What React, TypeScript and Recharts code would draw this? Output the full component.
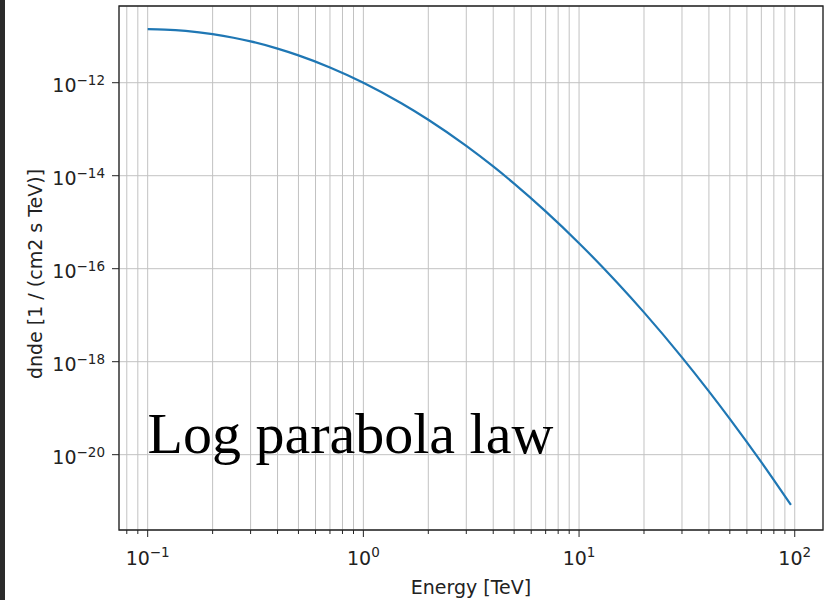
import { LineChart, Line, XAxis, YAxis, CartesianGrid, ReferenceArea } from "recharts";

// energy [TeV] and dnde [1 / (cm2 s TeV)]
const energies = [0.1, 0.12, 0.15, 0.2, 0.25, 0.3, 0.4, 0.5, 0.7, 1, 1.5, 2, 3, 4, 5, 7, 10, 15, 20, 30, 40, 50, 70, 96];
const dndeValues = [
  1.42e-11, 1.39e-11, 1.3e-11, 1.11e-11, 9.29e-12, 7.73e-12, 5.41e-12, 3.87e-12, 2.13e-12, 1e-12,
  3.62e-13, 1.6e-13, 4.38e-14, 1.58e-14, 6.76e-15, 1.71e-15, 3.54e-16, 5.05e-17, 1.15e-17,
  1.24e-18, 2.3e-19, 5.89e-20, 6.89e-21, 8.28e-22,
];

const xMajorTicks = [0.1, 1, 10, 100];
const xMinorTicks = [
  0.08, 0.09, 0.2, 0.3, 0.4, 0.5, 0.6, 0.7, 0.8, 0.9, 2, 3, 4, 5, 6, 7, 8, 9, 20, 30, 40, 50, 60, 70, 80, 90,
];
const xExponents = ["−1", "0", "1", "2"];
const yMajorTicks = [1e-12, 1e-14, 1e-16, 1e-18, 1e-20];
const yExponents = ["−12", "−14", "−16", "−18", "−20"];

const xDomain = [0.07362, 135.2];
const yDomain = [2.399e-22, 4.467e-11];

const data = energies.map((e, i) => ({ energy: e, dnde: dndeValues[i] }));
const xTicks = [...xMinorTicks, ...xMajorTicks].sort((a, b) => a - b);

const FONT = "DejaVu Sans";
const INK = "#222";

function XTick(props: any) {
  const { x, y, payload } = props;
  const idx = xMajorTicks.indexOf(payload.value);
  const major = idx >= 0;
  return (
    <g>
      <line x1={x} y1={y} x2={x} y2={y + (major ? 7 : 4)} stroke={INK} strokeWidth={1} />
      {major && (
        <text x={x} y={y + 35} textAnchor="middle" fontFamily={FONT} fontSize={19} fill={INK}>
          <tspan>10</tspan>
          <tspan dy={-8} fontSize={13.5}>{xExponents[idx]}</tspan>
        </text>
      )}
    </g>
  );
}

function YTick(props: any) {
  const { x, y, payload } = props;
  const idx = yMajorTicks.indexOf(payload.value);
  return (
    <g>
      <line x1={x - 7} y1={y} x2={x} y2={y} stroke={INK} strokeWidth={1} />
      <text x={x - 14} y={y + 9} textAnchor="end" fontFamily={FONT} fontSize={19} fill={INK}>
        <tspan>10</tspan>
        <tspan dy={-7} fontSize={13.5}>{yExponents[idx]}</tspan>
      </text>
    </g>
  );
}

export default function App() {
  return (
    <div style={{ position: "absolute", left: 0, top: 0, width: 829, height: 600, background: "#fff" }}>
      <div style={{ position: "absolute", left: 0, top: 0, width: 5, height: 600, background: "#2b2b2b" }} />
      <LineChart width={829} height={600} data={data} margin={{ top: 6, right: 6, bottom: 0, left: 0 }}>
        <CartesianGrid stroke="#c2c2c2" strokeWidth={1} />
        <XAxis
          dataKey="energy"
          type="number"
          scale="log"
          domain={xDomain}
          allowDataOverflow
          ticks={xTicks}
          interval={0}
          height={70}
          axisLine={false}
          tickLine={false}
          tickSize={0}
          tickMargin={0}
          tick={<XTick />}
          label={() => (
            <text x={471} y={594} textAnchor="middle" fontFamily={FONT} fontSize={19} fill={INK}>
              Energy [TeV]
            </text>
          )}
        />
        <YAxis
          type="number"
          scale="log"
          domain={yDomain}
          allowDataOverflow
          ticks={yMajorTicks}
          interval={0}
          width={119}
          axisLine={false}
          tickLine={false}
          tickSize={0}
          tickMargin={0}
          tick={<YTick />}
          label={() => (
            <g>
              <text
                x={42}
                y={274}
                transform="rotate(-90, 42, 274)"
                textAnchor="middle"
                fontFamily={FONT}
                fontSize={19}
                fill={INK}
              >
                dnde [1 / (cm2 s TeV)]
              </text>
              <text x={147.5} y={453} fontFamily="Liberation Serif" fontSize={58} fill="#000">
                Log parabola law
              </text>
            </g>
          )}
        />
        <ReferenceArea
          x1={xDomain[0]}
          x2={xDomain[1]}
          y1={yDomain[0]}
          y2={yDomain[1]}
          fill="none"
          fillOpacity={0}
          stroke="#222"
          strokeWidth={1.3}
          ifOverflow="visible"
        />
        <Line
          type="monotone"
          dataKey="dnde"
          stroke="#1f77b4"
          strokeWidth={2.2}
          dot={false}
          isAnimationActive={false}
        />
      </LineChart>
    </div>
  );
}
